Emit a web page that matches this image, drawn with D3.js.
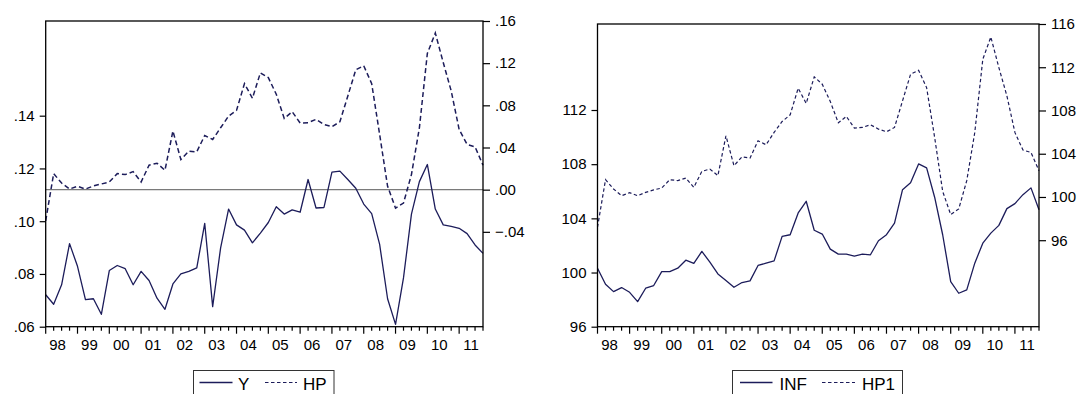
<!DOCTYPE html>
<html><head><meta charset="utf-8">
<script src="https://cdn.jsdelivr.net/npm/d3@7"></script>
<style>
body{margin:0;background:#fff}
svg{display:block}
text{font-family:Arial,"Liberation Sans",sans-serif;fill:#000}
</style>
</head><body><svg id="c" width="1083" height="394"></svg>
<script>
// ---- data (quarterly, 1998Q1 - 2011Q4) ----
const years = ["98","99","00","01","02","03","04","05","06","07","08","09","10","11"];
const quarters = years.flatMap(y => ["Q1","Q2","Q3","Q4"].map(q => y + q));

const Y = [0.0721,0.0685,0.0759,0.0915,0.0829,0.0703,0.0706,0.0647,
  0.0813,0.0832,0.0820,0.0759,0.0810,0.0775,0.0708,0.0666,
  0.0762,0.0800,0.0810,0.0823,0.0992,0.0676,0.0899,0.1046,
  0.0986,0.0966,0.0918,0.0955,0.0995,0.1055,0.1027,0.1043,
  0.1034,0.1158,0.1050,0.1052,0.1186,0.1190,0.1158,0.1125,
  0.1065,0.1029,0.0912,0.0706,0.0609,0.0785,0.1027,0.1150,
  0.1215,0.1046,0.0986,0.0980,0.0973,0.0953,0.0910,0.0878];

const HP = [-0.0295,0.0152,0.0063,0.0006,0.0032,0.0006,0.0035,0.0054,
  0.0073,0.0152,0.0143,0.0171,0.0073,0.0232,0.0251,0.0184,
  0.0556,0.0286,0.0365,0.0359,0.0514,0.0476,0.0587,0.0698,
  0.0752,0.1006,0.0867,0.1108,0.1063,0.0905,0.0676,0.0740,
  0.0632,0.0635,0.0667,0.0619,0.0597,0.0644,0.0889,0.1137,
  0.1175,0.1006,0.0524,0.0032,-0.0175,-0.0127,0.0143,0.0587,
  0.1292,0.1486,0.1206,0.0937,0.0571,0.0429,0.0406,0.0232];

const INF = [100.32,99.14,98.59,98.89,98.54,97.85,98.84,99.04,
  100.07,100.07,100.32,100.91,100.67,101.56,100.77,99.90,
  99.41,98.91,99.26,99.38,100.52,100.69,100.86,102.67,
  102.79,104.40,105.26,103.12,102.84,101.73,101.36,101.36,
  101.21,101.36,101.31,102.35,102.79,103.65,106.12,106.62,
  108.02,107.73,105.56,102.79,99.33,98.47,98.72,100.69,
  102.17,102.91,103.48,104.72,105.09,105.75,106.25,104.64];

const HP1 = [97.20,101.60,100.74,100.12,100.40,100.12,100.43,100.65,
  100.83,101.60,101.51,101.75,100.89,102.37,102.58,101.97,
  105.66,102.89,103.72,103.60,105.20,104.83,105.97,106.98,
  107.60,110.06,108.65,111.11,110.43,108.83,106.86,107.45,
  106.37,106.43,106.68,106.28,106.03,106.43,108.89,111.35,
  111.72,110.12,105.51,100.52,98.37,98.89,101.51,105.97,
  112.74,114.80,111.97,109.35,105.97,104.34,104.12,102.43];

const leftTicksA  = [0.06,0.08,0.10,0.12,0.14];
const rightTicksA = [-0.04,0.00,0.04,0.08,0.12,0.16];
const leftTicksB  = [96,100,104,108,112];
const rightTicksB = [96,100,104,108,112,116];

const seriesNamesA = ["Y","HP"];
const seriesNamesB = ["INF","HP1"];

// ---- drawing ----
const svg = d3.select("#c");
const LINE = "#1c1c5a";
const decFmt = v => d3.format(".2f")(v).replace("0.", ".");

function panel(cfg){
  const g = svg.append("g");
  const x = d3.scalePoint().domain(quarters).range([cfg.x0, cfg.x1]);
  const yL = d3.scaleLinear().domain(cfg.domL).range([cfg.y1, cfg.y0]);
  const yR = d3.scaleLinear().domain(cfg.domR).range([cfg.y1, cfg.y0]);

  // zero line
  if (cfg.zero) {
    g.append("line").attr("x1", cfg.x0).attr("x2", cfg.x1)
      .attr("y1", yR(0)).attr("y2", yR(0))
      .attr("stroke", "#7a7a7a").attr("stroke-width", 1.2);
  }

  // series
  const lineL = d3.line().x((d,i)=>x(quarters[i])).y(d=>yL(d));
  const lineR = d3.line().x((d,i)=>x(quarters[i])).y(d=>yR(d));
  g.append("path").datum(cfg.sL).attr("d", lineL)
    .attr("fill","none").attr("stroke",LINE).attr("stroke-width",1.3)
    .attr("stroke-linejoin","round");
  g.append("path").datum(cfg.sR).attr("d", lineR)
    .attr("fill","none").attr("stroke",LINE).attr("stroke-width",cfg.dashW)
    .attr("stroke-dasharray",cfg.dash);

  // box
  g.append("rect").attr("x", cfg.x0).attr("y", cfg.y0)
    .attr("width", cfg.x1 - cfg.x0).attr("height", cfg.y1 - cfg.y0)
    .attr("fill","none").attr("stroke","#000").attr("stroke-width",1.3);

  // left axis
  const aL = g.append("g").attr("transform", `translate(${cfg.x0},0)`)
    .call(d3.axisLeft(yL).tickValues(cfg.tL).tickFormat(cfg.fmt).tickSize(6).tickPadding(5).tickSizeOuter(0));
  // right axis
  const aR = g.append("g").attr("transform", `translate(${cfg.x1},0)`)
    .call(d3.axisRight(yR).tickValues(cfg.tR).tickFormat(cfg.fmt).tickSize(7).tickPadding(5).tickSizeOuter(0));
  [aL, aR].forEach(a => {
    a.select(".domain").remove();
    a.selectAll("line").attr("stroke","#000").attr("stroke-width",1.2);
    a.selectAll("text").attr("font-size",15).attr("font-family","Arial, 'Liberation Sans', sans-serif").attr("fill","#000");
  });

  // x ticks: every quarter, longer at Q1
  g.selectAll(".xt").data(quarters).enter().append("line")
    .attr("x1", d => x(d)).attr("x2", d => x(d))
    .attr("y1", cfg.y1).attr("y2", d => cfg.y1 + (d.endsWith("Q1") ? 7 : 4))
    .attr("stroke","#000").attr("stroke-width",1.2);
  g.selectAll(".xl").data(years).enter().append("text")
    .attr("x", d => (x(d+"Q2") + x(d+"Q3")) / 2)
    .attr("y", cfg.y1 + 23.5)
    .attr("text-anchor","middle").attr("font-size",15)
    .text(d => d);

  // legend
  const L = cfg.leg;
  g.append("rect").attr("x", L.x).attr("y", 370.5).attr("width", L.w).attr("height", 40)
    .attr("fill","#fff").attr("stroke","#333").attr("stroke-width",1);
  g.append("line").attr("x1", L.s1).attr("x2", L.s2).attr("y1", 382.5).attr("y2", 382.5)
    .attr("stroke",LINE).attr("stroke-width",1.3);
  g.append("text").attr("x", L.t1).attr("y", 389.5).attr("font-size",17).text(cfg.names[0]);
  g.append("line").attr("x1", L.d1).attr("x2", L.d2).attr("y1", 382.5).attr("y2", 382.5)
    .attr("stroke",LINE).attr("stroke-width",1.2).attr("stroke-dasharray","3.5,2.5");
  g.append("text").attr("x", L.t2).attr("y", 389.5).attr("font-size",17).text(cfg.names[1]);
}

panel({
  x0: 45.7, x1: 483, y0: 21, y1: 326.7,
  domL: [0.06, 0.1759], domR: [-0.130, 0.160],
  sL: Y, sR: HP, tL: leftTicksA, tR: rightTicksA, fmt: decFmt,
  dash: "5,3", dashW: 1.5, zero: true, names: seriesNamesA,
  leg: {x: 193.5, w: 140.5, s1: 199.5, s2: 232.5, t1: 238, d1: 265, d2: 297, t2: 303}
});

panel({
  x0: 597.5, x1: 1039, y0: 24, y1: 326.7,
  domL: [96, 118.35], domR: [88, 116],
  sL: INF, sR: HP1, tL: leftTicksB, tR: rightTicksB, fmt: d3.format("d"),
  dash: "3.5,2.5", dashW: 1.2, zero: false, names: seriesNamesB,
  leg: {x: 732.5, w: 170, s1: 740, s2: 772.5, t1: 779.5, d1: 822, d2: 855, t2: 862}
});
</script>
</body></html>
